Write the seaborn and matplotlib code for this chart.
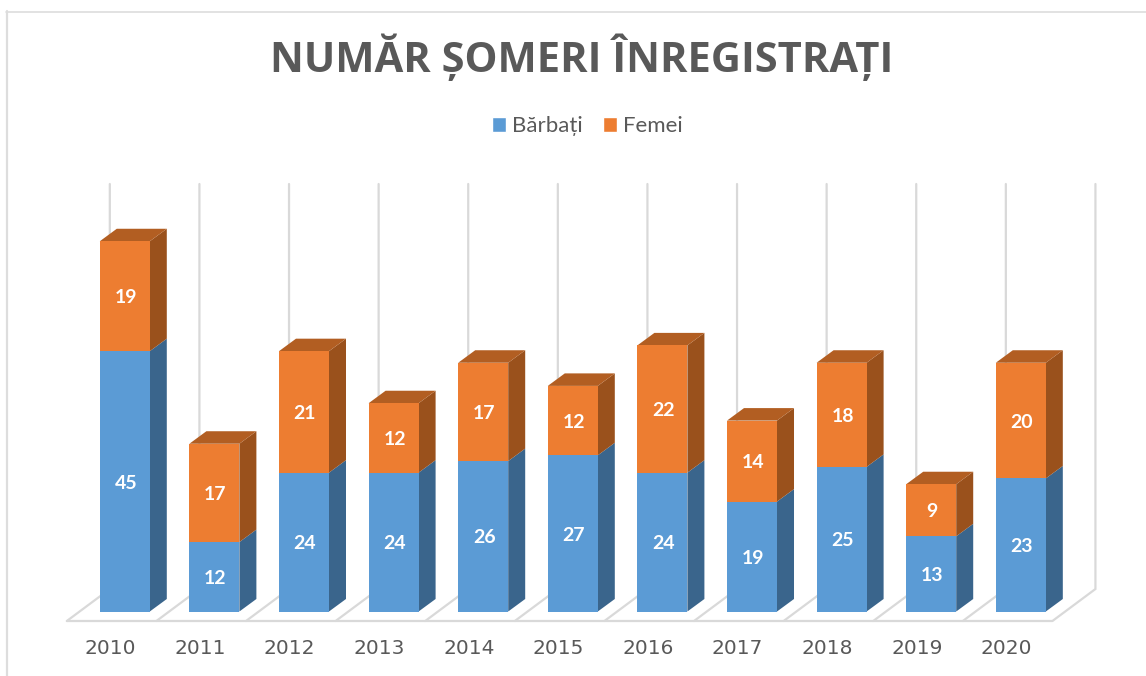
import matplotlib
matplotlib.use("Agg")
import matplotlib.pyplot as plt
import numpy as np
import pandas as pd
import seaborn as sns
from matplotlib.patches import Patch, Polygon
from matplotlib.lines import Line2D

years = ["2010", "2011", "2012", "2013", "2014", "2015", "2016", "2017", "2018", "2019", "2020"]
barbati = [45, 12, 24, 24, 26, 27, 24, 19, 25, 13, 23]
femei = [19, 17, 21, 12, 17, 12, 22, 14, 18, 9, 20]
title = "NUMĂR ȘOMERI ÎNREGISTRAȚI"
series_names = ["Bărbați", "Femei"]

BLUE, ORANGE = "#5B9BD5", "#ED7D31"
BLUE_SIDE, ORANGE_SIDE, ORANGE_TOP = "#3A658C", "#9A511C", "#B25E22"
GRID = "#D9D9D9"
TEXT = "#595959"
W, H = 1146, 676

sns.set_theme(style="white")
plt.rcParams["font.family"] = ["Lato", "DejaVu Sans"]

df = pd.DataFrame({"year": years, "m": barbati, "f": femei})
fig = plt.figure(figsize=(W / 100, H / 100), dpi=100, facecolor="white")
ax = fig.add_axes([67 / W, 1 - 621 / H, (1095 - 67) / W, (621 - 184) / H])

BAR_W = 50 / 89.6
sns.barplot(data=df, x="year", y="m", color=BLUE, saturation=1, width=BAR_W, ax=ax, zorder=3,
            edgecolor="none", linewidth=0)
sns.barplot(data=df, x="year", y="f", bottom=df["m"], color=ORANGE, saturation=1, width=BAR_W, ax=ax, zorder=3,
            edgecolor="none", linewidth=0)
for c in ax.containers:
    for p in c.patches:
        p.set_antialiased(False)

PX_X, PX_Y = 89.6, 5.785
x0, x1, y0, y1 = -0.647, 10.826, -9.5 / PX_Y, 427.5 / PX_Y
ax.set_xlim(x0 + 0.002, x1 + 0.002)
ax.set_ylim(y0, y1)
DX, DY = 17 / PX_X, 12.5 / PX_Y
FLOOR_DX, FLOOR_BACK = 43 / PX_X, 22.5 / PX_Y

# wall and floor
n = len(years)
for i in range(n + 1):
    fx = x0 + i
    ax.add_line(Line2D([fx, fx + FLOOR_DX, fx + FLOOR_DX], [y0, FLOOR_BACK, y1], color=GRID, lw=1.6,
                       zorder=1, clip_on=False, solid_joinstyle="miter"))
ax.add_line(Line2D([x0, x0 + n], [y0, y0], color=GRID, lw=1.6, zorder=1, clip_on=False))

# depth faces derived from the bars
for i, (m, f) in enumerate(zip(barbati, femei)):
    r = i + BAR_W / 2
    l = i - BAR_W / 2
    t = m + f
    ax.add_patch(Polygon([(r, 0), (r + DX, DY), (r + DX, m + DY), (r, m)], fc=BLUE_SIDE, ec="none", zorder=2.5))
    ax.add_patch(Polygon([(r, m), (r + DX, m + DY), (r + DX, t + DY), (r, t)], fc=ORANGE_SIDE, ec="none", zorder=2.5))
    ax.add_patch(Polygon([(l, t), (l + DX, t + DY), (r + DX, t + DY), (r, t)], fc=ORANGE_TOP, ec="none", zorder=2.5))

for c in ax.containers:
    for t in ax.bar_label(c, fmt="%d", label_type="center", color="white", fontweight="bold", fontsize=14, zorder=5):
        t.xyann = (0.7, -1.2)

sns.despine(ax=ax, left=True, bottom=True, top=True, right=True)
ax.set_xlabel("")
ax.set_ylabel("")
ax.set_yticks([])
ax.set_xticks(np.arange(n) - 0.16)
ax.set_xticklabels(years, color=TEXT, fontsize=14.5, family="DejaVu Sans")
ax.tick_params(axis="x", length=0, pad=13)

fig.suptitle(title, x=581.5 / W, y=1 - 58.5 / H, va="center", ha="center", color=TEXT,
             fontsize=30, fontweight="bold", family="Open Sans")
fig.legend(handles=[Patch(fc=BLUE, label=series_names[0]), Patch(fc=ORANGE, label=series_names[1])],
           loc="center", bbox_to_anchor=(587.5 / W, 1 - 126.5 / H), ncols=2, frameon=False,
           fontsize=16, labelcolor=TEXT, handlelength=0.63, handleheight=0.63,
           handletextpad=0.27, columnspacing=0.9)

# chart frame
fig.add_artist(Line2D([6 / W, 1], [1 - 11.5 / H, 1 - 11.5 / H], color="#DDDDDD", lw=1.2))
fig.add_artist(Line2D([7 / W, 7 / W], [1 - 11 / H, 0], color="#DDDDDD", lw=1.6))

fig.savefig("out.png", dpi=100)
